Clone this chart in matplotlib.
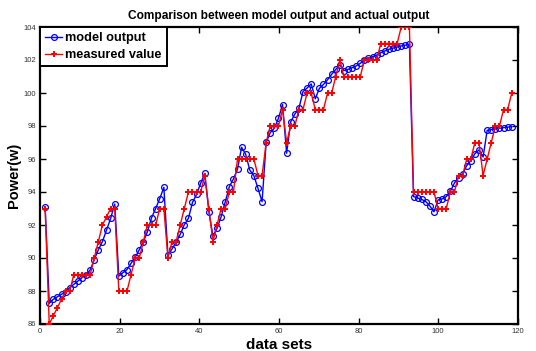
import numpy as np
import matplotlib
matplotlib.use("Agg")
import matplotlib.pyplot as plt

# ---------------- data ----------------
model_output = [
    93.1, 87.25, 87.5, 87.65, 87.8, 87.96, 88.2, 88.4, 88.6, 88.8,
    89.0, 89.27, 89.9, 90.5, 91.0, 91.7, 92.4, 93.27, 88.9, 89.11,
    89.3, 89.68, 90.04, 90.5, 90.99, 91.6, 92.44, 93.0, 93.6, 94.28,
    90.18, 90.55, 90.95, 91.43, 92.02, 92.4, 93.37, 93.86, 94.53, 95.13,
    92.8, 91.33, 91.8, 92.5, 93.4, 94.32, 94.79, 95.39, 96.71, 96.28,
    95.33, 94.99, 94.22, 93.41, 97.01, 97.6, 97.86, 98.47, 99.3, 96.35,
    98.26, 98.72, 99.07, 100.08, 100.3, 100.55, 99.65, 100.28, 100.52, 100.8,
    101.13, 101.43, 101.7, 101.36, 101.43, 101.53, 101.64, 101.8, 102.0, 102.1,
    102.2, 102.3, 102.44, 102.55, 102.65, 102.72, 102.78, 102.85, 102.9, 102.95,
    93.72, 93.64, 93.55, 93.42, 93.15, 92.8, 93.52, 93.58, 93.72, 94.04,
    94.55, 94.85, 95.1, 95.6, 95.9, 96.32, 96.55, 96.12, 97.74, 97.78,
    97.82, 97.86, 97.9, 97.93, 97.96,
]
measured_value = [
    93, 86, 86.5, 87, 87.5, 88, 88, 89, 89, 89,
    89, 89, 90, 91, 92, 92.5, 93, 93, 88, 88,
    88, 89, 90, 90, 91, 92, 92, 92, 93, 93,
    90, 91, 91, 92, 93, 94, 94, 94, 94, 95,
    93, 91, 92, 93, 93, 94, 94, 96, 96, 96,
    96, 96, 95, 95, 97, 98, 98, 98, 99, 97,
    98, 98, 99, 99, 100, 100, 99, 99, 99, 100,
    100, 101, 102, 101, 101, 101, 101, 101, 102, 102,
    102, 102, 103, 103, 103, 103, 103, 104, 104, 104,
    94, 94, 94, 94, 94, 94, 93, 93, 93, 94,
    94, 95, 95, 96, 96, 97, 97, 95, 96, 97,
    98, 98, 99, 99, 100,
]
x_ticks = [0, 20, 40, 60, 80, 100, 120]
y_ticks = [86, 88, 90, 92, 94, 96, 98, 100, 102, 104]

# sample positions on the "data sets" axis
x_first = 1.22
x_step = 1.0288
data_sets = x_first + x_step * np.arange(len(model_output))

# ---------------- fonts ----------------
plt.rcParams["font.family"] = ["Liberation Sans", "DejaVu Sans"]

# ---------------- figure ----------------
fig = plt.figure(figsize=(5.36, 3.51), dpi=100)
ax = fig.add_axes([40.3 / 536, 1 - 324 / 351, (517.7 - 40.3) / 536, (324 - 27) / 351])

ax.plot(data_sets, model_output, color="#0000ff", lw=1.0, marker="o", ms=4.2,
        mfc="none", mec="#0000ff", mew=0.9, label="model output", zorder=3)
ax.plot(data_sets, measured_value, color="#ff0000", lw=1.0, marker="+", ms=5,
        mew=1.4, label="measured value", zorder=4)

ax.set_xlim(0, 120)
ax.set_ylim(86, 104)
ax.set_xticks(x_ticks)
ax.set_yticks(y_ticks)
ax.tick_params(direction="in", length=4, width=1.0, top=True, right=True,
               labelsize=5.5, labelcolor="#333333", pad=3)
for s in ax.spines.values():
    s.set_linewidth(1.6)
    s.set_color("black")

ax.set_title("Comparison between model output and actual output",
             fontsize=8.6, fontweight="bold", pad=6)
ax.set_xlabel("data sets", fontsize=11, fontweight="bold", labelpad=2)
ax.set_ylabel("Power(w)", fontsize=10.5, fontweight="bold", labelpad=2)

leg = ax.legend(loc="upper left", borderaxespad=0, fancybox=False, framealpha=1,
                edgecolor="black", prop={"weight": "bold", "size": 9.2},
                handlelength=1.3, handletextpad=0.25, borderpad=0.4,
                labelspacing=0.4)
leg.get_frame().set_linewidth(1.4)

fig.savefig("out.png", dpi=100, facecolor="white")
